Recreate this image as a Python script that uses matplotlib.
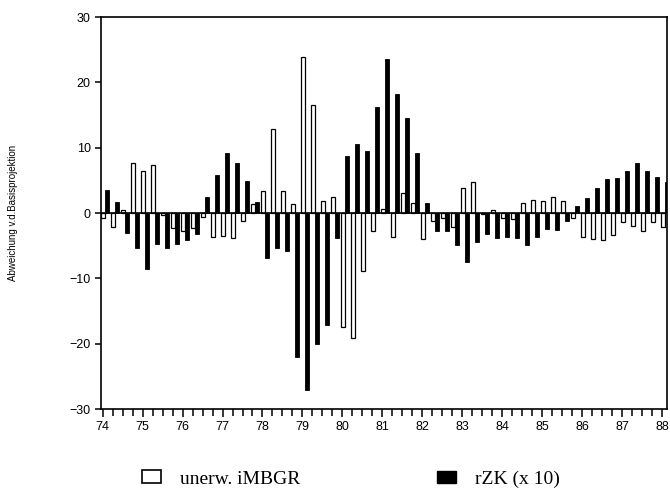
"""
Abweichung von der Basisprojektion, Quartalswerte 1974-1988
"""
import numpy as np
import matplotlib
matplotlib.use("Agg")
import matplotlib.pyplot as plt
from matplotlib.patches import Patch

# Quartale 74 Q1 ... 88 Q1
start_year = 74
n_quarters = 57

# unerw. iMBGR (weisse Balken)
imbgr = [-0.8, -2.1, 0.5, 7.6, 6.4, 7.4, -0.3, -2.3, -2.7, -2.3,
         -0.6, -3.6, -3.5, -3.9, -1.3, 1.4, 3.4, 12.9, 3.4, 1.4,
         23.9, 16.5, 1.9, 2.5, -17.5, -19.1, -8.9, -2.7, 0.6, -3.7,
         3.1, 1.6, -4.0, -1.2, -0.8, -2.2, 3.9, 4.8, -0.2, 0.5,
         -0.7, -0.9, 1.5, 2.0, 1.8, 2.4, 1.8, -0.7, -3.6, -4.0,
         -4.1, -3.3, -1.4, -2.0, -2.8, -1.4, -2.1]

# rZK (x 10) (schwarze Balken)
rzk = [3.5, 1.7, -3.0, -5.4, -8.5, -4.7, -5.3, -4.7, -4.2, -3.2,
       2.4, 5.8, 9.2, 7.7, 4.9, 1.7, -6.9, -5.4, -5.8, -22.1,
       -27.1, -20.0, -17.1, -3.8, 8.7, 10.6, 9.5, 16.3, 23.6, 18.2,
       14.6, 9.2, 1.5, -2.7, -2.7, -4.9, -7.5, -4.4, -3.2, -3.9,
       -3.7, -3.9, -4.9, -3.6, -2.4, -2.6, -1.2, 1.0, 2.3, 3.9,
       5.2, 5.4, 6.5, 7.6, 6.5, 5.5, 4.7]

year_ticks = list(range(74, 89))
y_ticks = [-30, -20, -10, 0, 10, 20, 30]

t = start_year + np.arange(n_quarters) / 4.0

fig = plt.figure(figsize=(6.7, 4.92), dpi=100)
ax = fig.add_axes([101 / 670, 83 / 492, 566 / 670, 392 / 492])

ax.bar(t - 0.03, imbgr, width=0.09, align='edge', facecolor='white',
       edgecolor='black', linewidth=0.9, zorder=2)
ax.bar(t + 0.06, rzk, width=0.1, align='edge', facecolor='black',
       edgecolor='black', linewidth=0.6, zorder=3)
ax.axhline(0, color='black', lw=1.2, zorder=4)

ax.set_xlim(73.96, 88.12)
ax.set_ylim(-30, 30)
ax.set_xticks(year_ticks)
ax.set_xticklabels([str(y) for y in year_ticks])
ax.set_xticks(t, minor=True)
ax.set_yticks(y_ticks)
ax.set_yticklabels([str(v).replace('-', '\u2212') for v in y_ticks])

for s in ax.spines.values():
    s.set_linewidth(1.2)
ax.tick_params(axis='x', which='major', direction='out', length=6, width=1.1,
               labelsize=9, pad=3)
ax.tick_params(axis='x', which='minor', direction='out', length=5, width=1.1)
ax.tick_params(axis='y', direction='out', length=4, width=1.1, labelsize=9)
for lab in ax.get_xticklabels() + ax.get_yticklabels():
    lab.set_family('Liberation Sans')

ax.set_ylabel('Abweichung v.d.Basisprojektion', fontsize=7,
              family='Liberation Sans', labelpad=37)

# Legende unten
legend_font = {'family': 'Liberation Serif', 'size': 14}
fig.legend(handles=[Patch(facecolor='white', edgecolor='black', linewidth=1.2,
                          label='unerw. iMBGR')],
           loc='center left', bbox_to_anchor=(124 / 670, 1 - 479 / 492),
           frameon=False, handlelength=1.0, handleheight=0.6,
           handletextpad=1.0, prop=legend_font)
fig.legend(handles=[Patch(facecolor='black', edgecolor='black',
                          label='rZK (x 10)')],
           loc='center left', bbox_to_anchor=(419 / 670, 1 - 479 / 492),
           frameon=False, handlelength=1.0, handleheight=0.6,
           handletextpad=1.0, prop=legend_font)

fig.savefig('out.png', dpi=100, facecolor='white')
